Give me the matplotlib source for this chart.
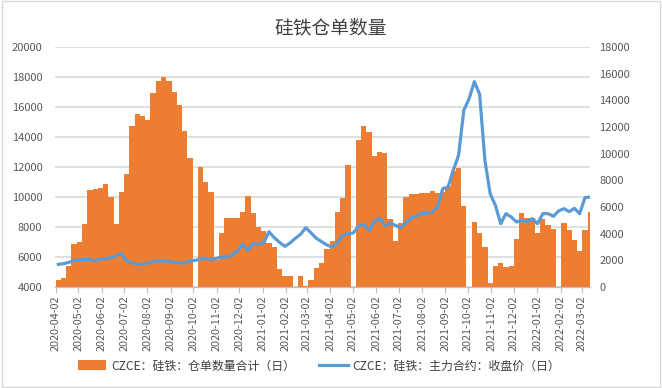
import numpy as np
import matplotlib
matplotlib.use('Agg')
import matplotlib.pyplot as plt
import matplotlib.dates as mdates
from matplotlib.patches import Rectangle

plt.rcParams['font.family'] = ['Noto Sans CJK SC', 'DejaVu Sans']

title = '硅铁仓单数量'
bar_label = 'CZCE：硅铁：仓单数量合计（日）'
line_label = 'CZCE：硅铁：主力合约：收盘价（日）'

# weekly readings, first week starts 2020-04-02
first_week = '2020-04-02'
nan = np.nan
receipts = [4470, 4600, 5400, 6900, 7000, 8200, 10450, 10520, 10600, 10850,
            10000, 8200, 10300, 11500, 14700, 15500, 15400, 15100, 16900, 17700,
            18000, 17700, 17000, 16100, 14400, 12600, nan, 12000, 11000, 10300,
            5800, 7600, 8600, 8600, 8580, 9000, 10050, 8900, 8000, 7700,
            6950, 6700, 5200, 4730, 4730, nan, 4720, 4100, 4500, 5300,
            5600, 6540, 7100, 9000, 9900, 12100, nan, 13800, 14700, 14300,
            12700, 13000, 12900, 8500, 7100, 8250, 10000, 10200, 10220, 10250,
            10250, 10400, 10250, 10300, 10700, 11700, 11900, 9400, nan, 8300,
            7600, 6700, 4250, 5400, 5600, 5360, 5400, 7200, 8900, 8600,
            8600, 7600, 8500, 8100, 7870, nan, 8250, 7800, 7140, 6400,
            7800, 9000]
close_price = [1700, 1750, 1850, 1980, 2050, 2050, 2080, 1950, 2100, 2100,
               2200, 2350, 2500, 1950, 1800, 1700, 1700, 1800, 1900, 1950,
               1950, 1950, 1850, 1800, 1800, 1950, 2000, 2100, 2150, 2050,
               2150, 2250, 2250, 2400, 2700, 3200, 2750, 3250, 3200, 3300,
               4150, 3700, 3350, 3050, 3300, 3650, 3950, 4450, 4050, 3650,
               3400, 3150, 3000, 3300, 3900, 4000, 4050, 4550, 4700, 4250,
               4900, 5150, 4600, 4800, 4625, 4450, 4800, 5200, 5300, 5550,
               5500, 5625, 6000, 7375, 7500, 8750, 9875, 13250, 14125, 15400,
               14450, 9500, 7000, 6125, 4750, 5500, 5250, 4875, 5000, 4900,
               5125, 4750, 5500, 5500, 5300, 5700, 5875, 5650, 5900, 5500,
               6700, 6750]

month_ticks = ['2020-04-02', '2020-05-02', '2020-06-02', '2020-07-02', '2020-08-02',
               '2020-09-02', '2020-10-02', '2020-11-02', '2020-12-02', '2021-01-02',
               '2021-02-02', '2021-03-02', '2021-04-02', '2021-05-02', '2021-06-02',
               '2021-07-02', '2021-08-02', '2021-09-02', '2021-10-02', '2021-11-02',
               '2021-12-02', '2022-01-02', '2022-02-02', '2022-03-02']

weeks = np.datetime64(first_week) + np.arange(len(receipts)) * np.timedelta64(7, 'D')
week_mid = weeks.astype('datetime64[h]') + np.timedelta64(84, 'h')

orange = '#ED7D31'
blue = '#5B9BD5'
grid = '#D9D9D9'
txt = '#595959'

fig = plt.figure(figsize=(6.62, 3.88), dpi=100)
fig.patches.append(Rectangle((0.003, 0.003), 0.994, 0.994, transform=fig.transFigure,
                             fill=False, edgecolor=grid, linewidth=1))
ax = fig.add_axes([0.083, 0.2603, 0.808, 0.6186])
ax2 = ax.twinx()

ax.bar(weeks, receipts, width=7, align='edge', color=orange, linewidth=0, label=bar_label)
ax2.plot(week_mid, close_price, color=blue, linewidth=2.3, label=line_label)

ax.set_ylim(4000, 20000)
ax.set_yticks(np.arange(4000, 20001, 2000))
ax2.set_ylim(0, 18000)
ax2.set_yticks(np.arange(0, 18001, 2000))
ax.set_xlim(np.datetime64('2020-04-01'), np.datetime64('2022-03-13'))

ax.set_xticks([np.datetime64(d) for d in month_ticks])
ax.xaxis.set_major_formatter(mdates.DateFormatter('%Y-%m-%d'))
ax.tick_params(axis='x', rotation=90, labelsize=7.8, colors=txt, length=4, pad=2, width=0.8)
ax.tick_params(axis='y', length=0, labelsize=8, labelcolor=txt, pad=9)
ax2.tick_params(axis='y', length=0, labelsize=8, labelcolor=txt, pad=7)
ax.tick_params(axis='x', color='#BFBFBF')

ax.grid(axis='y', color=grid, linewidth=1.2)
ax.set_axisbelow(True)
for a in (ax, ax2):
    for s in ('left', 'right', 'top'):
        a.spines[s].set_visible(False)
    a.spines['bottom'].set_color('#BFBFBF')

fig.suptitle(title, x=0.5, y=0.955, fontsize=13.5, color='#404040')

h1, l1 = ax.get_legend_handles_labels()
h2, l2 = ax2.get_legend_handles_labels()
fig.legend(h1 + h2, l1 + l2, loc='center', bbox_to_anchor=(0.482, 0.057), ncol=2,
           frameon=False, fontsize=8.6, labelcolor='#404040', columnspacing=2.0,
           handlelength=2.4, handleheight=0.9, handletextpad=0.4)

fig.savefig('out.png', dpi=100)
